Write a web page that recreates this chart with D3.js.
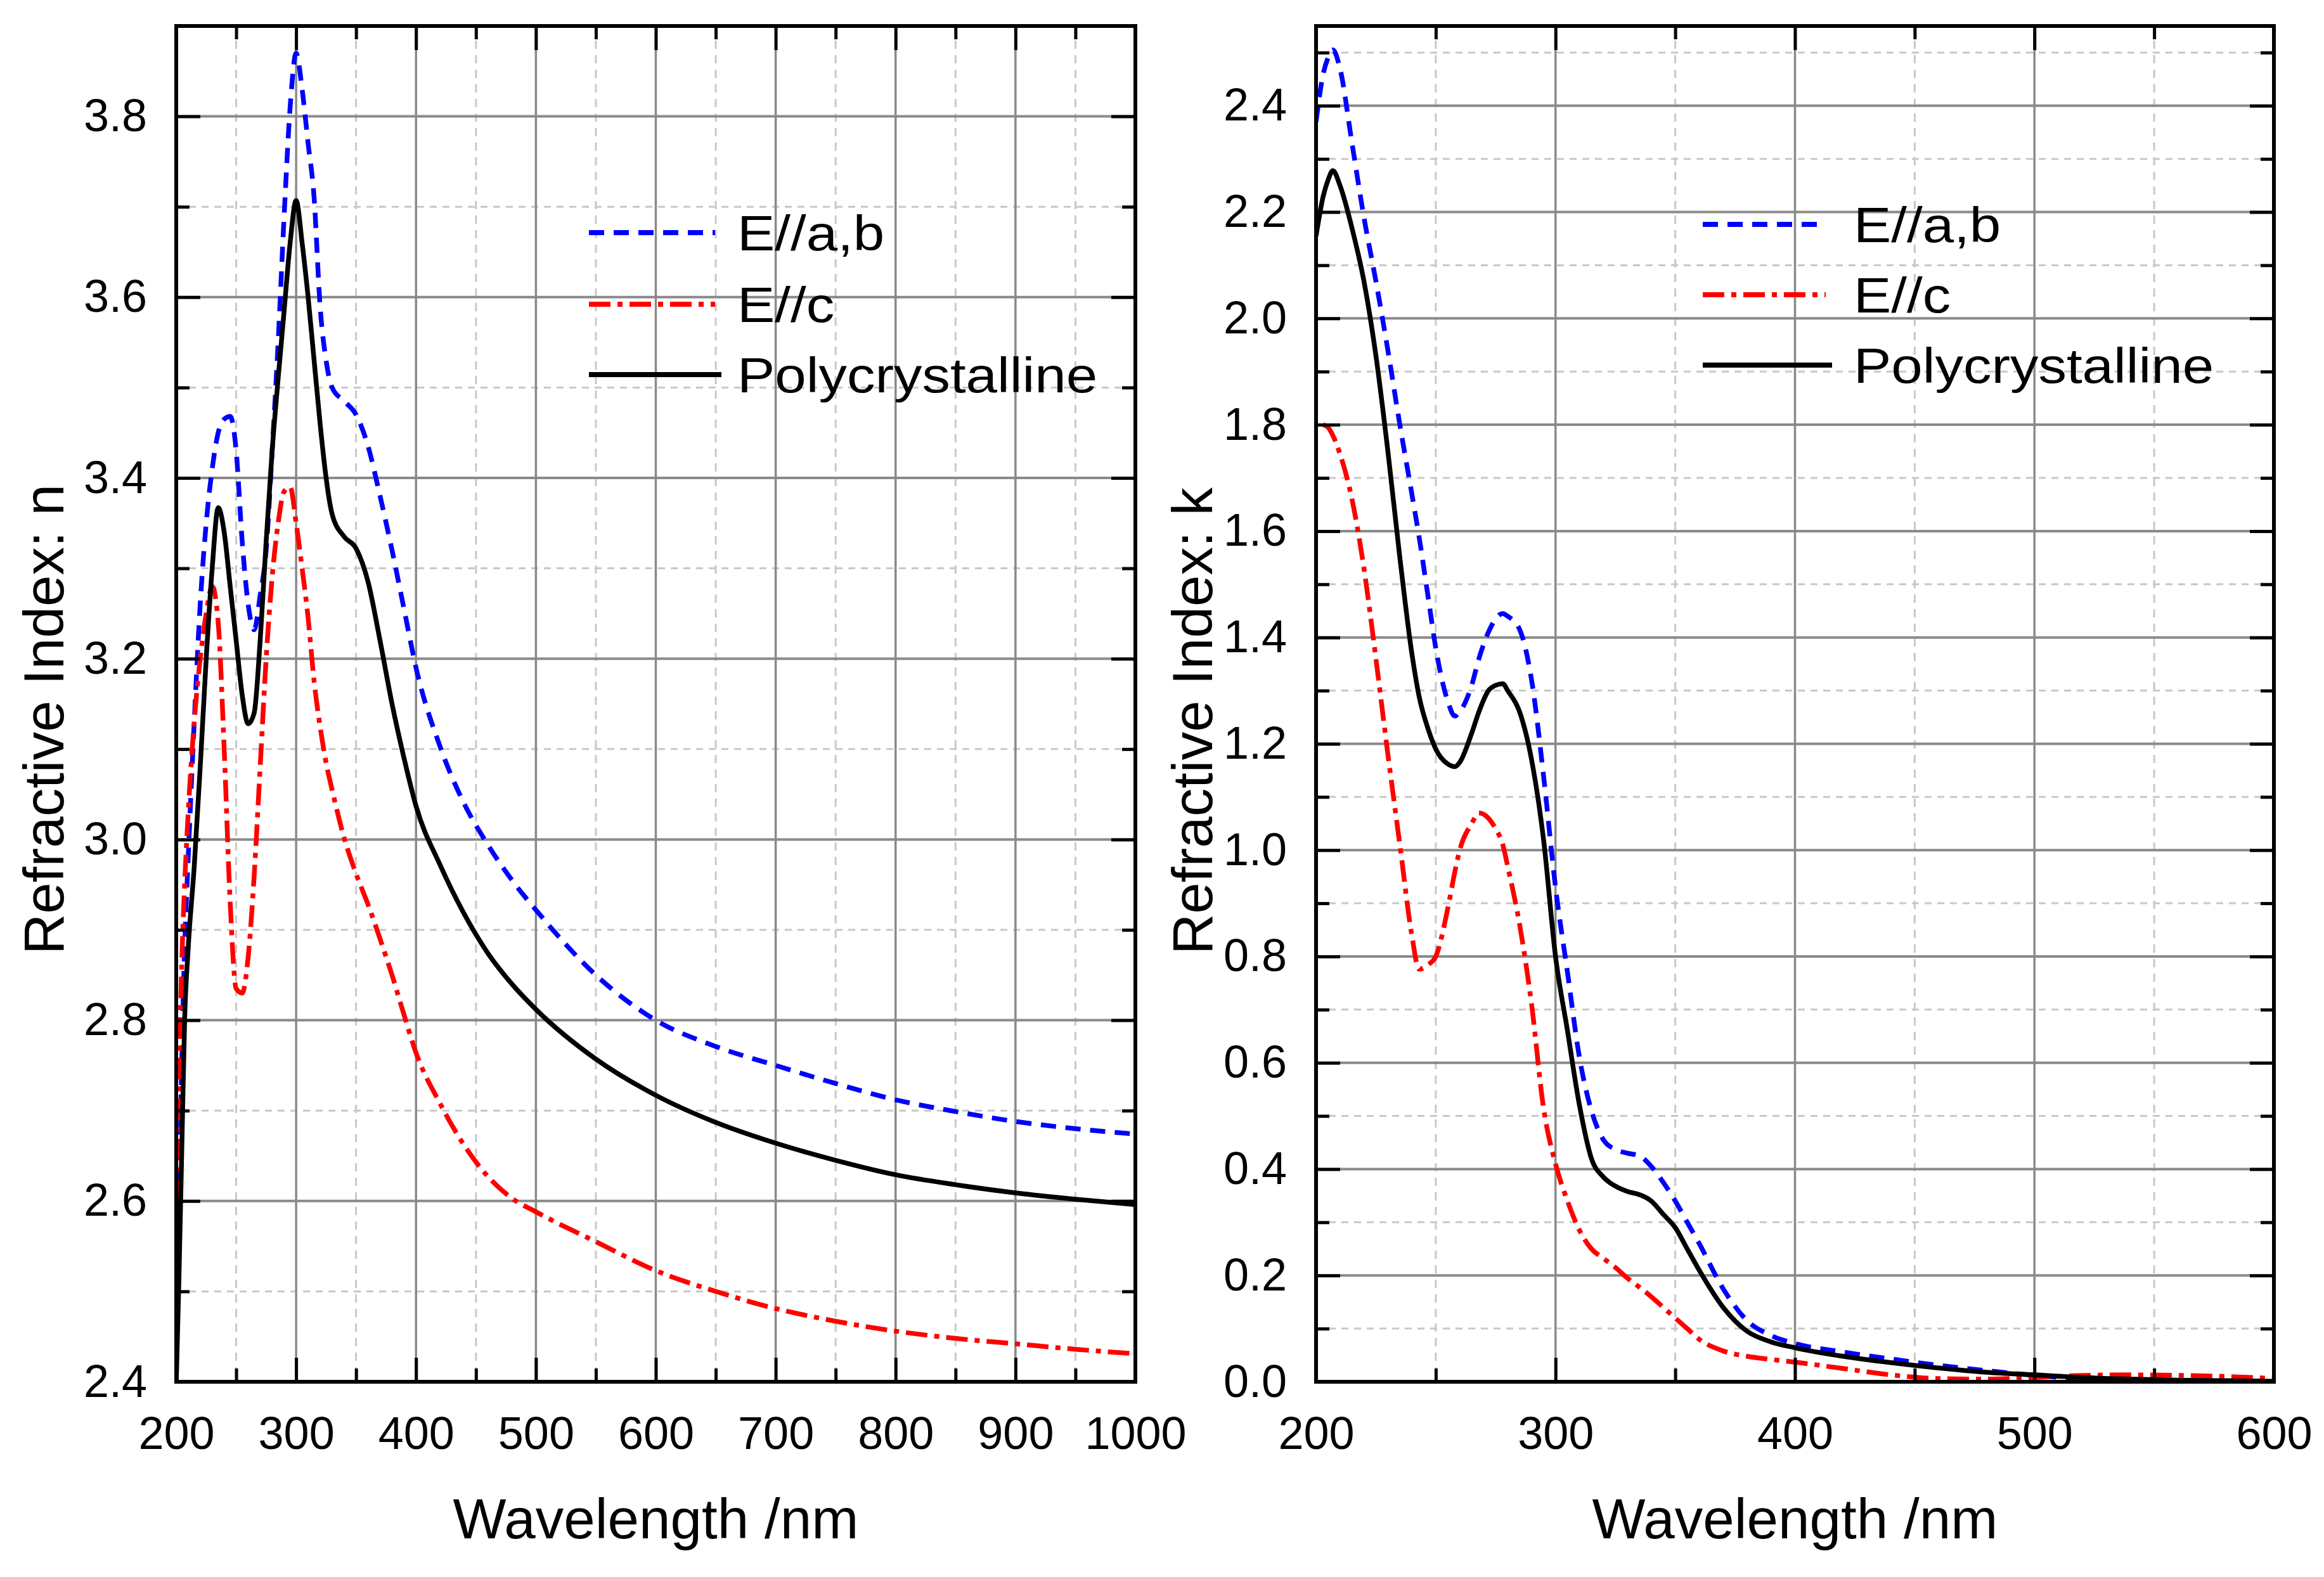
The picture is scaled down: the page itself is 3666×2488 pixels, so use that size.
<!DOCTYPE html>
<meta charset="utf-8">
<style>
  body { margin: 0; background: #fff; }
  text { font-family: "Liberation Sans", Arial, sans-serif; fill: #000; }
</style>
<script src="https://d3js.org/d3.v7.min.js"></script>
<div id="chart"></div>
<script>
// ---- data ----
const seriesNames = ["E//a,b", "E//c", "Polycrystalline"];

// left panel: refractive index n
const nWavelength = [200, 202, 205, 207, 210, 215, 220, 225, 230, 235, 240, 245, 250, 255, 260, 265, 270, 275, 280, 285,
  290, 295, 300, 305, 310, 315, 320, 325, 330, 340, 350, 360, 370, 380, 390, 400, 420, 440, 460, 480,
  500, 550, 600, 650, 700, 750, 800, 850, 900, 950, 1000];
const nAB = [2.40, 2.55, 2.78, 2.88, 2.98, 3.13, 3.26, 3.35, 3.41, 3.45, 3.465, 3.468, 3.43, 3.33, 3.26, 3.232, 3.27, 3.32, 3.43, 3.55,
  3.69, 3.81, 3.87, 3.83, 3.77, 3.71, 3.59, 3.53, 3.50, 3.485, 3.47, 3.435, 3.38, 3.32, 3.255, 3.19, 3.103, 3.040, 2.994, 2.955,
  2.922, 2.850, 2.80, 2.771, 2.750, 2.730, 2.712, 2.699, 2.688, 2.68, 2.674];
const nC = [2.60, 2.72, 2.88, 2.95, 3.03, 3.13, 3.20, 3.25, 3.28, 3.24, 3.10, 2.93, 2.835, 2.83, 2.87, 2.96, 3.08, 3.20, 3.29, 3.35,
  3.385, 3.39, 3.35, 3.30, 3.245, 3.175, 3.125, 3.085, 3.055, 3.002, 2.962, 2.928, 2.89, 2.85, 2.806, 2.764, 2.708, 2.662, 2.627, 2.603,
  2.588, 2.555, 2.523, 2.50, 2.481, 2.467, 2.456, 2.448, 2.442, 2.436, 2.431];
const nPoly = [2.40, 2.50, 2.68, 2.80, 2.88, 2.97, 3.08, 3.20, 3.30, 3.367, 3.34, 3.28, 3.22, 3.16, 3.128, 3.14, 3.22, 3.33, 3.43, 3.51,
  3.585, 3.66, 3.707, 3.66, 3.60, 3.53, 3.46, 3.40, 3.36, 3.335, 3.322, 3.285, 3.22, 3.15, 3.09, 3.037, 2.972, 2.918, 2.874, 2.840,
  2.812, 2.757, 2.717, 2.687, 2.664, 2.645, 2.629, 2.618, 2.609, 2.602, 2.596];

// right panel: extinction coefficient k
const kWavelength = [200, 203, 205, 207, 210, 215, 220, 225, 230, 235, 240, 243, 247, 250, 255, 258, 260, 265, 268, 272,
  275, 278, 280, 285, 290, 295, 300, 305, 310, 315, 320, 325, 330, 335, 340, 345, 350, 355, 360, 370,
  380, 390, 400, 420, 440, 460, 480, 500, 520, 540, 560, 580, 600];
const kAB = [2.37, 2.46, 2.49, 2.505, 2.47, 2.33, 2.19, 2.07, 1.94, 1.80, 1.67, 1.59, 1.47, 1.38, 1.28, 1.252, 1.26, 1.31, 1.36, 1.41,
  1.435, 1.445, 1.44, 1.415, 1.32, 1.14, 0.93, 0.77, 0.61, 0.51, 0.455, 0.437, 0.43, 0.425, 0.405, 0.375, 0.34, 0.30, 0.26, 0.175,
  0.115, 0.087, 0.072, 0.056, 0.043, 0.031, 0.021, 0.012, 0.005, 0.001, 0, 0, 0];
const kC = [null, 1.80, 1.795, 1.78, 1.745, 1.66, 1.53, 1.36, 1.18, 1.01, 0.84, 0.776, 0.785, 0.80, 0.89, 0.96, 1.00, 1.05, 1.07, 1.06,
  1.04, 1.01, 0.97, 0.86, 0.71, 0.515, 0.41, 0.34, 0.285, 0.25, 0.232, 0.215, 0.195, 0.178, 0.16, 0.14, 0.12, 0.10, 0.08, 0.058,
  0.048, 0.042, 0.037, 0.025, 0.013, 0.006, 0.005, 0.008, 0.012, 0.013, 0.012, 0.01, 0.006];
const kPoly = [2.155, 2.23, 2.26, 2.278, 2.25, 2.17, 2.07, 1.93, 1.75, 1.55, 1.37, 1.29, 1.225, 1.19, 1.162, 1.157, 1.165, 1.22, 1.26, 1.30,
  1.31, 1.313, 1.30, 1.26, 1.17, 1.02, 0.80, 0.66, 0.52, 0.42, 0.385, 0.368, 0.358, 0.352, 0.34, 0.315, 0.29, 0.25, 0.21, 0.14,
  0.095, 0.075, 0.064, 0.048, 0.036, 0.026, 0.018, 0.013, 0.008, 0.005, 0.003, 0.002, 0.001];

// ticks
const nXTicks = [200, 300, 400, 500, 600, 700, 800, 900, 1000];
const nXMinor = [250, 350, 450, 550, 650, 750, 850, 950];
const nYTicks = [2.4, 2.6, 2.8, 3.0, 3.2, 3.4, 3.6, 3.8];
const nYMinor = [2.5, 2.7, 2.9, 3.1, 3.3, 3.5, 3.7];
const kXTicks = [200, 300, 400, 500, 600];
const kXMinor = [250, 350, 450, 550];
const kYTicks = [0.0, 0.2, 0.4, 0.6, 0.8, 1.0, 1.2, 1.4, 1.6, 1.8, 2.0, 2.2, 2.4];
const kYMinor = [0.1, 0.3, 0.5, 0.7, 0.9, 1.1, 1.3, 1.5, 1.7, 1.9, 2.1, 2.3, 2.5];

// ---- layout ----
const W = 3666, H = 2488;
const styles = [
  { color: "#0000ff", dash: "24,15" },
  { color: "#ff0000", dash: "34,11,8,11" },
  { color: "#000000", dash: null }
];

const panels = [
  { id: "n", left: 278, right: 1791, top: 41, bottom: 2180,
    xDomain: [200, 1000], yDomain: [2.4, 3.9],
    xTicks: nXTicks, xMinor: nXMinor, yTicks: nYTicks, yMinor: nYMinor,
    wl: nWavelength, series: [nAB, nC, nPoly],
    yTitle: "Refractive Index: n", yTitleX: 100,
    legend: { x0: 929, x1: 1128, tx: 1163, rows: [367, 480, 591] } },
  { id: "k", left: 2076, right: 3587, top: 41, bottom: 2180,
    xDomain: [200, 600], yDomain: [0, 2.55],
    xTicks: kXTicks, xMinor: kXMinor, yTicks: kYTicks, yMinor: kYMinor,
    wl: kWavelength, series: [kAB, kC, kPoly],
    yTitle: "Refractive Index: k", yTitleX: 1912,
    legend: { x0: 2686, x1: 2880, tx: 2924, rows: [354, 465, 576] } }
];

const svg = d3.select("#chart").append("svg")
  .attr("width", W).attr("height", H)
  .attr("viewBox", `0 0 ${W} ${H}`);
svg.append("rect").attr("width", W).attr("height", H).attr("fill", "#fff");

panels.forEach(function(p) {
  const x = d3.scaleLinear().domain(p.xDomain).range([p.left, p.right]);
  const y = d3.scaleLinear().domain(p.yDomain).range([p.bottom, p.top]);
  const g = svg.append("g");

  // grid: minor dashed first, then major solid
  const grid = g.append("g");
  grid.selectAll(".vminor").data(p.xMinor).enter().append("line")
    .attr("x1", d => x(d)).attr("x2", d => x(d))
    .attr("y1", p.top).attr("y2", p.bottom)
    .attr("stroke", "#c8c8c8").attr("stroke-width", 3).attr("stroke-dasharray", "13,10");
  grid.selectAll(".hminor").data(p.yMinor).enter().append("line")
    .attr("x1", p.left).attr("x2", p.right)
    .attr("y1", d => y(d)).attr("y2", d => y(d))
    .attr("stroke", "#c8c8c8").attr("stroke-width", 3).attr("stroke-dasharray", "11,9");
  grid.selectAll(".vmajor").data(p.xTicks).enter().append("line")
    .attr("x1", d => x(d)).attr("x2", d => x(d))
    .attr("y1", p.top).attr("y2", p.bottom)
    .attr("stroke", "#8a8a8a").attr("stroke-width", 3.5);
  grid.selectAll(".hmajor").data(p.yTicks).enter().append("line")
    .attr("x1", p.left).attr("x2", p.right)
    .attr("y1", d => y(d)).attr("y2", d => y(d))
    .attr("stroke", "#8a8a8a").attr("stroke-width", 4);

  // curves
  svg.append("clipPath").attr("id", "clip-" + p.id)
    .append("rect").attr("x", p.left).attr("y", p.top)
    .attr("width", p.right - p.left).attr("height", p.bottom - p.top);
  const line = d3.line()
    .defined(d => d[1] != null)
    .x(d => x(d[0])).y(d => y(d[1]))
    .curve(d3.curveMonotoneX);
  const curves = g.append("g").attr("clip-path", `url(#clip-${p.id})`);
  p.series.forEach(function(vals, i) {
    curves.append("path")
      .datum(p.wl.map((w, j) => [w, vals[j]]))
      .attr("fill", "none")
      .attr("stroke", styles[i].color)
      .attr("stroke-width", 7.5)
      .attr("stroke-linejoin", "round")
      .attr("stroke-dasharray", styles[i].dash)
      .attr("d", line);
  });

  // legend
  const lg = g.append("g");
  seriesNames.forEach(function(name, i) {
    const ry = p.legend.rows[i];
    lg.append("line")
      .attr("x1", p.legend.x0).attr("x2", p.legend.x1 + (i === 2 ? 10 : 0))
      .attr("y1", ry).attr("y2", ry)
      .attr("stroke", styles[i].color).attr("stroke-width", 8)
      .attr("stroke-dasharray", styles[i].dash);
    lg.append("text")
      .attr("transform", `translate(${p.legend.tx},${ry + 28}) scale(1.14,1)`)
      .attr("font-size", 78)
      .text(name);
  });

  // frame
  g.append("rect")
    .attr("x", p.left).attr("y", p.top)
    .attr("width", p.right - p.left).attr("height", p.bottom - p.top)
    .attr("fill", "none").attr("stroke", "#000").attr("stroke-width", 6);

  // axes (inward ticks on all four sides)
  const fmtY = d3.format(".1f");
  const styleAxis = sel => {
    sel.select(".domain").remove();
    sel.selectAll(".tick line").attr("stroke", "#000").attr("stroke-width", 5);
    sel.selectAll(".tick text").attr("font-size", 72).attr("fill", "#000")
      .attr("font-family", "'Liberation Sans', Arial, sans-serif");
  };
  g.append("g").attr("transform", `translate(0,${p.bottom})`)
    .call(d3.axisBottom(x).tickValues(p.xTicks).tickSizeInner(-38).tickSizeOuter(0).tickPadding(55).tickFormat(d3.format("d")))
    .call(styleAxis);
  g.append("g").attr("transform", `translate(0,${p.bottom})`)
    .call(d3.axisBottom(x).tickValues(p.xMinor).tickSizeInner(-21).tickSizeOuter(0).tickFormat(""))
    .call(styleAxis);
  g.append("g").attr("transform", `translate(0,${p.top})`)
    .call(d3.axisTop(x).tickValues(p.xTicks).tickSizeInner(-38).tickSizeOuter(0).tickFormat(""))
    .call(styleAxis);
  g.append("g").attr("transform", `translate(0,${p.top})`)
    .call(d3.axisTop(x).tickValues(p.xMinor).tickSizeInner(-21).tickSizeOuter(0).tickFormat(""))
    .call(styleAxis);
  g.append("g").attr("transform", `translate(${p.left},0)`)
    .call(d3.axisLeft(y).tickValues(p.yTicks).tickSizeInner(-38).tickSizeOuter(0).tickPadding(46).tickFormat(fmtY))
    .call(styleAxis);
  g.append("g").attr("transform", `translate(${p.left},0)`)
    .call(d3.axisLeft(y).tickValues(p.yMinor).tickSizeInner(-21).tickSizeOuter(0).tickFormat(""))
    .call(styleAxis);
  g.append("g").attr("transform", `translate(${p.right},0)`)
    .call(d3.axisRight(y).tickValues(p.yTicks).tickSizeInner(-38).tickSizeOuter(0).tickFormat(""))
    .call(styleAxis);
  g.append("g").attr("transform", `translate(${p.right},0)`)
    .call(d3.axisRight(y).tickValues(p.yMinor).tickSizeInner(-21).tickSizeOuter(0).tickFormat(""))
    .call(styleAxis);

  // axis titles
  g.append("text")
    .attr("x", (p.left + p.right) / 2).attr("y", 2427)
    .attr("text-anchor", "middle").attr("font-size", 89)
    .text("Wavelength /nm");
  g.append("text")
    .attr("transform", `translate(${p.yTitleX},1506) rotate(-90)`)
    .attr("text-anchor", "start").attr("font-size", 89)
    .text(p.yTitle);
});
</script>
